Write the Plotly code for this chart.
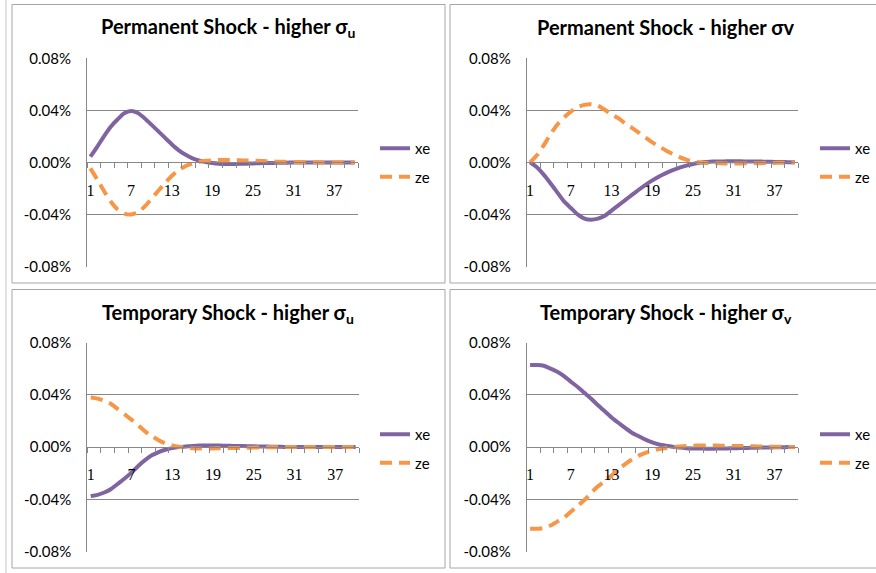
import plotly.graph_objects as go

periods = list(range(1, 41))
x_tick_vals = [1, 7, 13, 19, 25, 31, 37]
x_tick_text = ["1", "7", "13", "19", "25", "31", "37"]
y_tick_vals = [-0.08, -0.04, 0.0, 0.04, 0.08]
y_tick_text = ["-0.08%", "-0.04%", "0.00%", "0.04%", "0.08%"]
series_names = ["xe", "ze"]

titles = [
    "Permanent Shock - higher σ<sub>u</sub>",
    "Permanent Shock - higher σv",
    "Temporary Shock - higher σ<sub>u</sub>",
    "Temporary Shock - higher σ<sub>v</sub>",
]

# values in percent
perm_u_xe = [0.0044, 0.012, 0.020, 0.0274, 0.033, 0.0377, 0.0395, 0.038, 0.034, 0.029,
             0.024, 0.019, 0.014, 0.0095, 0.006, 0.0033, 0.0015, 0.0003, -0.0005, -0.001,
             -0.0012, -0.0012, -0.0011, -0.001, -0.0008, -0.0006, -0.0005, -0.0004, -0.0003, -0.0002,
             -0.0001, 0.0, 0.0, 0.0, 0.0, 0.0, 0.0, 0.0, 0.0, 0.0]
perm_u_ze = [-0.0046, -0.013, -0.022, -0.030, -0.036, -0.0393, -0.040, -0.0385, -0.034, -0.028,
             -0.022, -0.016, -0.0105, -0.006, -0.003, -0.001, 0.0003, 0.0012, 0.0016, 0.0018,
             0.0018, 0.0017, 0.0016, 0.0015, 0.0013, 0.0011, 0.0009, 0.0007, 0.0005, 0.0004,
             0.0003, 0.0002, 0.0001, 0.0001, 0.0, 0.0, 0.0, 0.0, 0.0, 0.0]
perm_v_xe = [0.0, -0.0037, -0.0094, -0.016, -0.023, -0.030, -0.035, -0.040, -0.0432, -0.044,
             -0.0432, -0.041, -0.037, -0.033, -0.029, -0.025, -0.021, -0.0172, -0.0138, -0.0108,
             -0.0082, -0.006, -0.004, -0.0025, -0.0012, -0.0003, 0.0003, 0.0006, 0.0007, 0.0008,
             0.0008, 0.0008, 0.0007, 0.0007, 0.0006, 0.0005, 0.0004, 0.0003, 0.0002, 0.0001]
perm_v_ze = [0.0, 0.0055, 0.013, 0.0216, 0.029, 0.0345, 0.039, 0.0425, 0.0442, 0.0447,
             0.0435, 0.0405, 0.037, 0.034, 0.030, 0.0266, 0.0229, 0.019, 0.0154, 0.0122,
             0.0092, 0.0065, 0.0041, 0.0022, 0.0008, 0.0, -0.0004, -0.0006, -0.0007, -0.0008,
             -0.0008, -0.0008, -0.0007, -0.0007, -0.0006, -0.0005, -0.0004, -0.0003, -0.0002, -0.0001]
temp_u_xe = [-0.0375, -0.0365, -0.0347, -0.032, -0.028, -0.024, -0.0195, -0.0144, -0.010, -0.0063,
             -0.0038, -0.002, -0.0008, 0.0, 0.0005, 0.0009, 0.0012, 0.0013, 0.0013, 0.0012,
             0.001, 0.0009, 0.0008, 0.0007, 0.0006, 0.0005, 0.0004, 0.0003, 0.0002, 0.0001,
             0.0, 0.0, 0.0, 0.0, 0.0, 0.0, 0.0, 0.0, 0.0, 0.0]
temp_u_ze = [0.038, 0.0372, 0.0354, 0.033, 0.029, 0.025, 0.021, 0.0167, 0.012, 0.0084,
             0.0053, 0.0028, 0.0013, 0.0003, -0.0003, -0.0008, -0.001, -0.001, -0.001, -0.0009,
             -0.0008, -0.0007, -0.0006, -0.0005, -0.0004, -0.0003, -0.0002, -0.0001, 0.0, 0.0,
             0.0, 0.0, 0.0, 0.0, 0.0, 0.0, 0.0, 0.0, 0.0, 0.0]
temp_v_xe = [0.0627, 0.0627, 0.0622, 0.060, 0.0576, 0.0543, 0.050, 0.046, 0.0415, 0.037,
             0.032, 0.0274, 0.0227, 0.0186, 0.0147, 0.011, 0.0083, 0.0057, 0.0036, 0.002,
             0.001, 0.0002, -0.0004, -0.0008, -0.001, -0.0011, -0.0012, -0.0012, -0.0011, -0.001,
             -0.0009, -0.0007, -0.0006, -0.0005, -0.0004, -0.0003, -0.0002, -0.0001, 0.0, 0.0]
temp_v_ze = [-0.0625, -0.0625, -0.0618, -0.060, -0.057, -0.054, -0.0495, -0.045, -0.0405, -0.035,
             -0.030, -0.026, -0.0217, -0.017, -0.013, -0.0095, -0.0065, -0.0044, -0.0028, -0.0015,
             -0.0007, 0.0, 0.0005, 0.0009, 0.0011, 0.0012, 0.0012, 0.0012, 0.0011, 0.001,
             0.0009, 0.0008, 0.0007, 0.0006, 0.0005, 0.0004, 0.0003, 0.0002, 0.0001, 0.0]

panels_data = [
    (perm_u_xe, perm_u_ze),
    (perm_v_xe, perm_v_ze),
    (temp_u_xe, temp_u_ze),
    (temp_v_xe, temp_v_ze),
]

W, H = 876, 573
PURPLE = "#8064A2"
ORANGE = "#F79646"
GRID = "#878787"
BOX = "#A6A6A6"

# pixel layout of each panel
layout_px = [
    (87, 358, 58.3, 266.5, 12, 445, 4.5, 283, 228, 28, 375, 132),
    (526.7, 798.3, 58.3, 266.5, 450, 890, 4.5, 283, 666, 27, 815, 132),
    (87.3, 359, 342.5, 551.7, 12, 445, 289.5, 568, 228, 313, 375, 418),
    (526.7, 798.3, 342.5, 551.7, 450, 890, 289.5, 568, 666, 313, 815, 418),
]

def px_x(v):
    return v / W

def px_y(v):
    return 1 - v / H

fig = go.Figure()
annotations = []
shapes = []
legend_keys = ["legend", "legend2", "legend3", "legend4"]
colors = [PURPLE, ORANGE]
dashes = ["solid", "12px,7px"]

for i, (data, lp) in enumerate(zip(panels_data, layout_px)):
    px0, px1, pyt, pyb, bx0, bx1, by0, by1, tcx, tcy, lgx, lgy = lp
    n = i + 1
    xa = "x" if n == 1 else f"x{n}"
    ya = "y" if n == 1 else f"y{n}"
    for s, (name, vals) in enumerate(zip(series_names, data)):
        fig.add_trace(go.Scatter(
            x=periods, y=vals, mode="lines", name=name,
            line=dict(color=colors[s], width=4, dash=dashes[s], shape="spline", smoothing=0.6),
            xaxis=xa, yaxis=ya, legend=legend_keys[i], legendgroup=f"{i}{s}",
            showlegend=True,
        ))
    ydom = [px_y(pyb), px_y(pyt)]
    xdom = [px_x(px0), px_x(px1)]
    xkey = "xaxis" if n == 1 else f"xaxis{n}"
    ykey = "yaxis" if n == 1 else f"yaxis{n}"
    fig.update_layout(**{
        xkey: dict(
            domain=xdom, range=[0.5, 40.5], anchor="free",
            position=(ydom[0] + ydom[1]) / 2, automargin=False,
            tickmode="array", tickvals=x_tick_vals, ticktext=x_tick_text,
            ticks="", showgrid=False, zeroline=False,
            showline=True, linecolor=GRID, linewidth=1,
            tickfont=dict(family="Liberation Serif", size=16, color="#000"),
            ticklabelstandoff=13,
            minor=dict(ticks="outside", tick0=0.5, dtick=2, ticklen=5, tickcolor=GRID, tickwidth=1, showgrid=False),
        ),
        ykey: dict(
            domain=ydom, range=[-0.08, 0.08], anchor=xa, automargin=False,
            tickmode="array", tickvals=y_tick_vals, ticktext=y_tick_text,
            showgrid=True, gridcolor=GRID, gridwidth=1, zeroline=False,
            showline=True, linecolor=GRID, linewidth=1, ticks="",
            tickfont=dict(family="Lato", size=15, color="#000"),
            ticklabelstandoff=12,
        ),
        legend_keys[i]: dict(
            x=px_x(lgx), y=px_y(lgy), xanchor="left", yanchor="top",
            bgcolor="rgba(0,0,0,0)", font=dict(family="Lato", size=15, color="#000"),
            traceorder="grouped", tracegroupgap=6, itemwidth=30,
        ),
    })
    annotations.append(dict(
        text=f"<b>{titles[i]}</b>", x=px_x(tcx), y=px_y(tcy), xref="paper", yref="paper",
        xanchor="center", yanchor="middle", showarrow=False,
        font=dict(family="Lato", size=20, color="#000"),
    ))
    shapes.append(dict(type="rect", xref="paper", yref="paper",
                       x0=px_x(bx0), x1=px_x(bx1), y0=px_y(by1), y1=px_y(by0),
                       line=dict(color=BOX, width=1), layer="below"))

shapes.append(dict(type="line", xref="paper", yref="paper", x0=px_x(6), x1=px_x(6), y0=0, y1=1,
                   line=dict(color="#C8C8C8", width=1)))

fig.update_layout(
    width=W, height=H, margin=dict(l=0, r=0, t=0, b=0, autoexpand=False),
    paper_bgcolor="white", plot_bgcolor="white",
    annotations=annotations, shapes=shapes,
)

fig.write_html("out.html", config={"displayModeBar": False},
               post_script="document.body.style.margin='0';document.body.style.overflow='hidden';")
